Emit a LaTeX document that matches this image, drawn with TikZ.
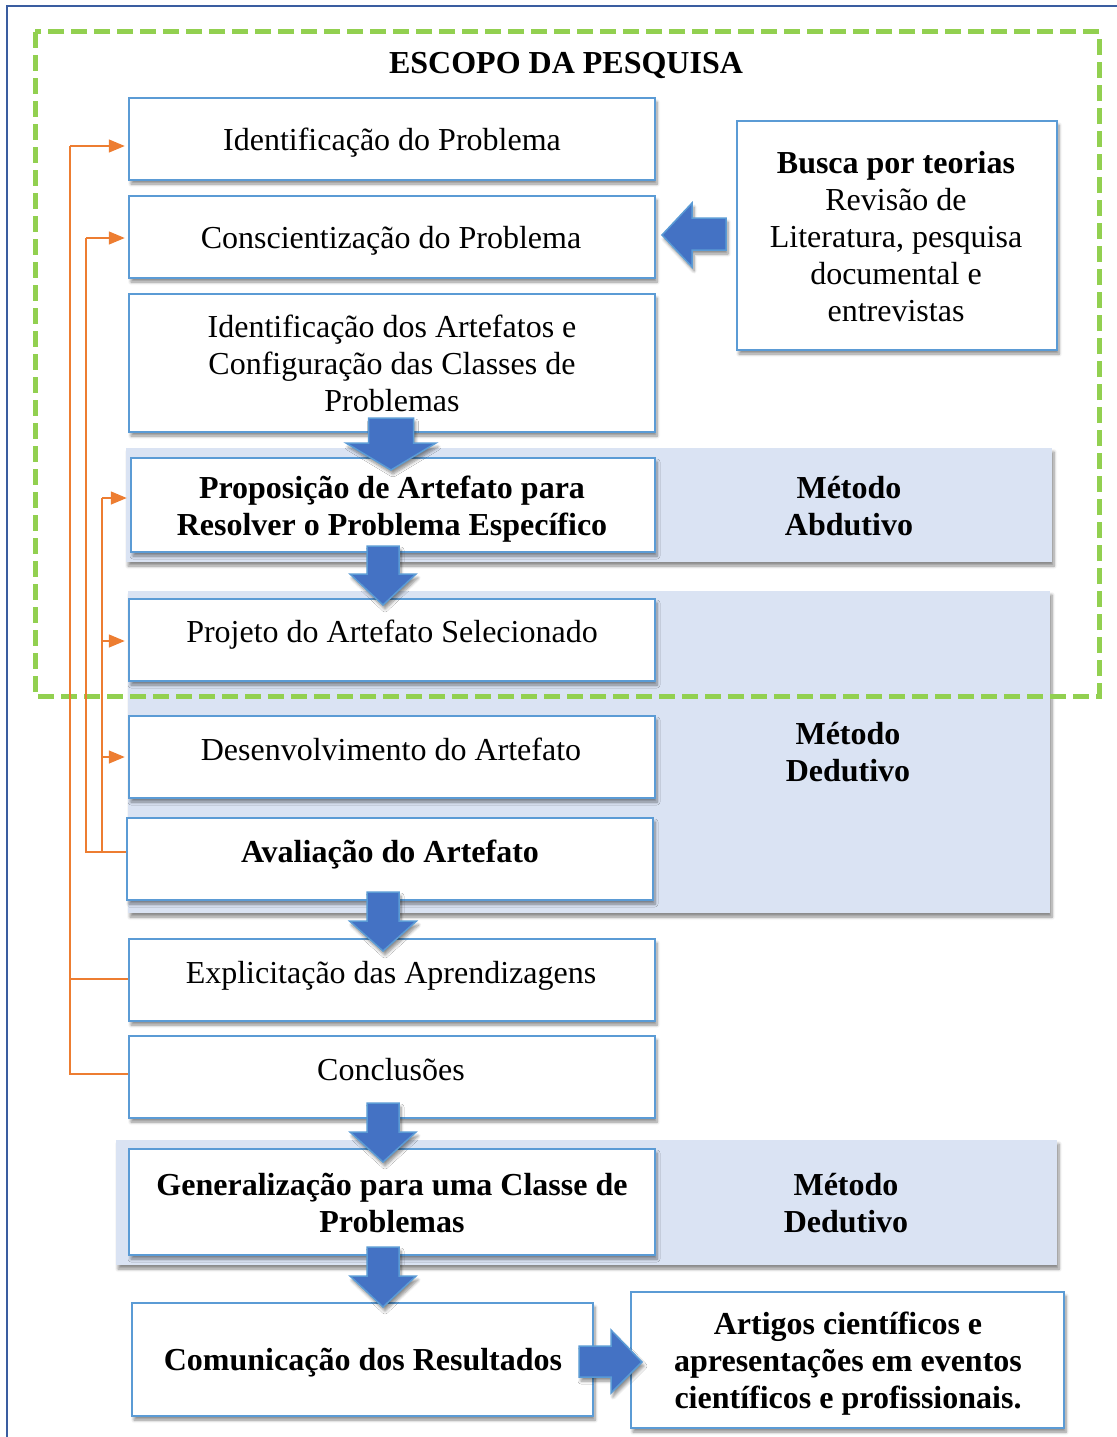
\documentclass[tikz,border=0pt]{standalone}
\usepackage{fontspec}
\setmainfont{Liberation Serif}
\usetikzlibrary{shadows.blur,arrows.meta}
\definecolor{boxblue}{HTML}{5B9BD5}
\definecolor{arrblue}{HTML}{4472C4}
\definecolor{bandblue}{HTML}{DAE3F3}
\definecolor{frameblue}{HTML}{3A5DA0}
\definecolor{dashgreen}{HTML}{92D050}
\definecolor{orangeline}{HTML}{ED7D31}
\tikzset{
  shad/.style={blur shadow={shadow xshift=2pt, shadow yshift=-4pt, shadow blur radius=3pt, shadow blur steps=6, shadow opacity=45}},
  stepbox/.style={draw=boxblue, line width=2.5pt, fill=white, shad, inner sep=0pt},
  bandbox/.style={fill=bandblue, draw=none, shad, inner sep=0pt},
  txt/.style={inner sep=0pt, align=center, anchor=base, font=\fontsize{32}{36.8}\selectfont},
  btxt/.style={txt, font=\fontsize{32}{36.8}\selectfont\bfseries},
  blk/.style={fill=arrblue, draw=boxblue, line width=1.5pt, line join=miter, shad},
  orl/.style={draw=orangeline, line width=1.5pt},
  ora/.style={orl, -{Triangle[length=16pt,width=13pt]}, shorten >=3pt},
}
\newcommand{\darr}[6]{%
  \draw[blk] ({#1-#3},{#2}) -- ({#1+#3},{#2}) -- ({#1+#3},{#5}) -- ({#1+#4},{#5}) -- ({#1},{#6}) -- ({#1-#4},{#5}) -- ({#1-#3},{#5}) -- cycle;}
\begin{document}
\begin{tikzpicture}[x=1pt,y=-1pt]
\useasboundingbox (0,0) rectangle (1116,1437);
% outer frame
\draw[frameblue, line width=2.5pt] (7,1445) -- (7,6) -- (1125,6);
% bands
\node[bandbox, minimum width=926pt, minimum height=114pt] (band1) at (589,505) {};
\node[bandbox, minimum width=922pt, minimum height=322pt] (band2) at (589,752) {};
\node[bandbox, minimum width=941pt, minimum height=125pt] (band3) at (586.5,1202.5) {};
% scope rectangle
\draw[dashgreen, line width=5pt, dash pattern=on 16pt off 7pt] (35,32) rectangle (1099,696);
% boxes
\node[stepbox, minimum width=526pt, minimum height=82pt] (b1) at (392,139) {};
\node[stepbox, minimum width=526pt, minimum height=82pt] (b2) at (392,237) {};
\node[stepbox, minimum width=526pt, minimum height=138pt] (b3) at (392,363) {};
\node[stepbox, minimum width=524pt, minimum height=94pt] (b4) at (393,505) {};
\node[stepbox, minimum width=526pt, minimum height=82pt] (b5) at (392,640) {};
\node[stepbox, minimum width=526pt, minimum height=82pt] (b6) at (392,757) {};
\node[stepbox, minimum width=526pt, minimum height=82pt] (b7) at (390,859) {};
\node[stepbox, minimum width=526pt, minimum height=82pt] (b8) at (392,980) {};
\node[stepbox, minimum width=526pt, minimum height=82pt] (b9) at (392,1077) {};
\node[stepbox, minimum width=526pt, minimum height=106pt] (b10) at (392,1202) {};
\node[stepbox, minimum width=461pt, minimum height=113pt] (b11) at (362.5,1359.5) {};
\node[stepbox, minimum width=433pt, minimum height=136pt] (b12) at (847.5,1360) {};
\node[stepbox, minimum width=320pt, minimum height=229pt] (busca) at (897,235.5) {};
% orange feedback lines
\draw[orl] (b9.west |- 0,1074) -- (70,1074) -- (70,146);
\draw[ora] (70,146) -- (b1.west |- 0,146);
\draw[orl] (b8.west |- 0,979) -- (70,979);
\draw[orl] (b7.west |- 0,852) -- (86,852) -- (86,238);
\draw[ora] (86,238) -- (b2.west |- 0,238);
\draw[orl] (86,852) -- (102,852) -- (102,498);
\draw[ora] (102,498) -- (b4.west |- 0,498);
\draw[ora] (102,641) -- (b5.west |- 0,641);
\draw[ora] (102,757) -- (b6.west |- 0,757);
% block arrows
\darr{391}{418}{22.5}{45}{443}{470}
\darr{383}{546}{16}{33}{574}{605}
\darr{383}{892}{16}{33.5}{921}{951}
\darr{383}{1103}{16}{33}{1132}{1162}
\darr{383}{1247}{16}{33}{1276}{1307}
\draw[blk] (726,218) -- (692,218) -- (692,203) -- (662,235) -- (692,267) -- (692,250) -- (726,250) -- cycle;
\draw[blk] (579,1346) -- (611,1346) -- (611,1330) -- (642,1362) -- (611,1393) -- (611,1377) -- (579,1377) -- cycle;
% texts (base anchor = baseline of last line)
\node[btxt] (title) at (566,74) {ESCOPO DA PESQUISA};
\node[txt] (t1) at (392,150) {Identificação do Problema};
\node[txt] (t2) at (391,248) {Conscientização do Problema};
\node[txt] (t3) at (392,411) {Identificação dos Artefatos e\\Configuração das Classes de\\Problemas};
\node[btxt] (t4) at (392,535) {Proposição de Artefato para\\Resolver o Problema Específico};
\node[txt] (tb) at (896,321) {\textbf{Busca por teorias}\\Revisão de\\Literatura, pesquisa\\documental e\\entrevistas};
\node[btxt] (m1) at (849,535) {Método\\Abdutivo};
\node[txt] (t5) at (392,642) {Projeto do Artefato Selecionado};
\node[txt] (t6) at (391,760) {Desenvolvimento do Artefato};
\node[btxt] (t7) at (390,862) {Avaliação do Artefato};
\node[btxt] (m2) at (848,781) {Método\\Dedutivo};
\node[txt] (t8) at (391,983) {Explicitação das Aprendizagens};
\node[txt] (t9) at (391,1080) {Conclusões};
\node[btxt] (t10) at (392,1232) {Generalização para uma Classe de\\Problemas};
\node[btxt] (m3) at (846,1232) {Método\\Dedutivo};
\node[btxt] (t11) at (363,1370) {Comunicação dos Resultados};
\node[btxt] (t12) at (848,1408) {Artigos científicos e\\apresentações em eventos\\científicos e profissionais.};
\end{tikzpicture}
\end{document}
